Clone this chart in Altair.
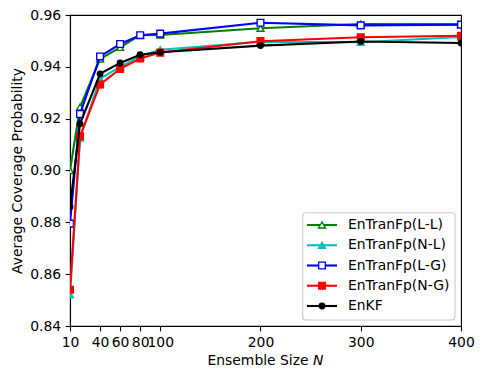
import altair as alt
import pandas as pd

# ---- data ----
ensemble_sizes = [10, 20, 40, 60, 80, 100, 200, 300, 400]
series_names = ["EnTranFp(L-L)", "EnTranFp(N-L)", "EnTranFp(L-G)", "EnTranFp(N-G)", "EnKF"]
ll_vals = [0.9000, 0.9245, 0.9430, 0.9475, 0.9522, 0.9523, 0.9549, 0.9565, 0.9564]
nl_vals = [0.8520, 0.9125, 0.9355, 0.9400, 0.9442, 0.9466, 0.9497, 0.9495, 0.9515]
lg_vals = [0.8795, 0.9218, 0.9440, 0.9488, 0.9522, 0.9528, 0.9570, 0.9560, 0.9563]
ng_vals = [0.8540, 0.9132, 0.9332, 0.9392, 0.9432, 0.9455, 0.9499, 0.9514, 0.9520]
enkf_vals = [0.8860, 0.9180, 0.9373, 0.9415, 0.9447, 0.9456, 0.9482, 0.9498, 0.9492]
x_ticks = [10, 40, 60, 80, 100, 200, 300, 400]
y_ticks = [0.84, 0.86, 0.88, 0.90, 0.92, 0.94, 0.96]

all_vals = [ll_vals, nl_vals, lg_vals, ng_vals, enkf_vals]
rows = []
for name, vals in zip(series_names, all_vals):
    for n, v in zip(ensemble_sizes, vals):
        rows.append({"series": name, "N": n, "p": v})
df = pd.DataFrame(rows)

# ---- styles ----
colors = ["#008000", "#00bfbf", "#0000ff", "#ff0000", "#000000"]
fills = ["#ffffff", "#00bfbf", "#ffffff", "#ff0000", "#000000"]
shapes = ["triangle-up", "triangle-up", "square", "square", "circle"]
msizes = [48, 48, 45, 45, 30]
FONT = "DejaVu Sans"
FS = 13.9
LW = 2.1

color_scale = alt.Scale(domain=series_names, range=colors)
fill_scale = alt.Scale(domain=series_names, range=fills)
x_scale = alt.Scale(domain=[10, 400], nice=False, zero=False)
y_scale = alt.Scale(domain=[0.84, 0.96], nice=False, zero=False)

x_axis = alt.Axis(values=x_ticks, title=None, labelOverlap=False, labelFlush=False,
                  labelBound=False, grid=False)
y_axis = alt.Axis(values=y_ticks, format=".2f", title="Average Coverage Probability",
                  grid=False, titlePadding=5)

layers = []
for i, name in enumerate(series_names):
    base = alt.Chart(df).transform_filter(alt.datum.series == name)
    line = base.mark_line(strokeWidth=LW, clip=True).encode(
        x=alt.X("N:Q", scale=x_scale, axis=x_axis),
        y=alt.Y("p:Q", scale=y_scale, axis=y_axis),
        color=alt.Color("series:N", scale=color_scale, legend=None),
    )
    pts = base.mark_point(shape=shapes[i], size=msizes[i], strokeWidth=1.4,
                          opacity=1, fillOpacity=1, clip=True).encode(
        x=alt.X("N:Q", scale=x_scale, axis=x_axis),
        y=alt.Y("p:Q", scale=y_scale, axis=y_axis),
        stroke=alt.Stroke("series:N", scale=color_scale, legend=None),
        fill=alt.Fill("series:N", scale=fill_scale, legend=None),
    )
    layers += [line, pts]

# ---- x-axis title with italic N ----
t1 = alt.Chart(pd.DataFrame({"t": ["Ensemble Size"]})).mark_text(
    align="left", baseline="alphabetic", font=FONT, fontSize=FS, color="black"
).encode(x=alt.value(137.5), y=alt.value(350), text="t:N")
t2 = alt.Chart(pd.DataFrame({"t": ["N"]})).mark_text(
    align="left", baseline="alphabetic", font=FONT, fontSize=FS, fontStyle="italic", color="black"
).encode(x=alt.value(243), y=alt.value(350), text="t:N")
layers += [t1, t2]

# ---- legend (matplotlib style) ----
frame = alt.Chart(pd.DataFrame({"a": [0]})).mark_rect(
    fill="white", fillOpacity=0.8, stroke="#cccccc", strokeWidth=1.1, cornerRadius=3
).encode(x=alt.value(232.7), x2=alt.value(385), y=alt.value(197.7), y2=alt.value(305))
layers.append(frame)
for i, name in enumerate(series_names):
    ly = 210 + i * 20.25
    ldf = pd.DataFrame({"series": [name]})
    lrule = alt.Chart(ldf).mark_rule(strokeWidth=LW).encode(
        x=alt.value(237), x2=alt.value(267), y=alt.value(ly),
        color=alt.Color("series:N", scale=color_scale, legend=None),
    )
    lpt = alt.Chart(ldf).mark_point(shape=shapes[i], size=msizes[i], strokeWidth=1.4,
                                    opacity=1, fillOpacity=1).encode(
        x=alt.value(252), y=alt.value(ly),
        stroke=alt.Stroke("series:N", scale=color_scale, legend=None),
        fill=alt.Fill("series:N", scale=fill_scale, legend=None),
    )
    ltxt = alt.Chart(ldf).mark_text(align="left", baseline="middle", font=FONT,
                                    fontSize=FS, color="black").encode(
        x=alt.value(278), y=alt.value(ly), text="series:N"
    )
    layers += [lrule, lpt, ltxt]

chart = alt.layer(*layers).properties(
    width=391, height=311, autosize=alt.AutoSizeParams(type="none"),
    padding={"left": 62, "top": 7, "right": 17, "bottom": 44},
).configure_view(
    stroke="black", strokeWidth=1.1
).configure_axis(
    labelFont=FONT, labelFontSize=FS, labelColor="black",
    titleFont=FONT, titleFontSize=FS, titleFontWeight="normal", titleColor="black",
    domainColor="black", domainWidth=1.1, tickColor="black", tickWidth=1.1,
    tickSize=4.9, labelPadding=4.5,
)

chart.save("out.html", embed_options={"renderer": "svg", "actions": False})
